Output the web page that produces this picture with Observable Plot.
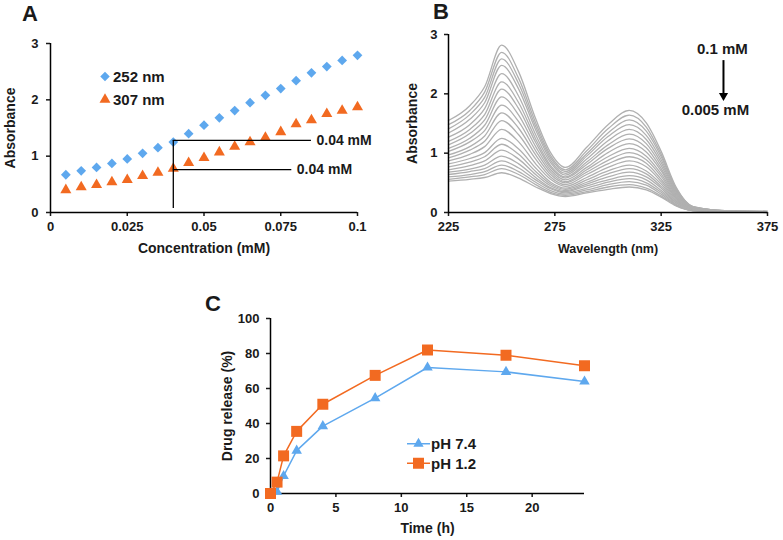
<!DOCTYPE html>
<html><head><meta charset="utf-8">
<script src="https://cdn.jsdelivr.net/npm/d3@7"></script>
<script src="https://cdn.jsdelivr.net/npm/@observablehq/plot@0.6"></script>
<style>
body{margin:0;background:#fff;}
#fig{position:relative;width:783px;height:540px;overflow:hidden;font-family:"Liberation Sans",Arial,sans-serif;color:#1a1a1a;background:#fff;}
.panel{position:absolute;}
.letter{position:absolute;font-weight:bold;font-size:22px;line-height:24px;}
</style></head><body><div id="fig"></div>
<script>
// ---------- Panel A data ----------
const concA = [0.005,0.01,0.015,0.02,0.025,0.03,0.035,0.04,0.045,0.05,0.055,0.06,0.065,0.07,0.075,0.08,0.085,0.09,0.095,0.1];
const abs252 = [0.67,0.74,0.80,0.87,0.95,1.05,1.15,1.25,1.40,1.55,1.68,1.81,1.95,2.08,2.20,2.34,2.48,2.59,2.70,2.79];
const abs307 = [0.40,0.45,0.49,0.54,0.58,0.65,0.71,0.78,0.88,0.97,1.07,1.17,1.25,1.33,1.43,1.57,1.64,1.75,1.81,1.87];
const seriesA = ["252 nm","307 nm"];
const concTicks = [0,0.025,0.05,0.075,0.1];
const concTickLabels = ["0","0.025","0.05","0.075","0.1"];
const absTicks = [0,1,2,3];
const guideAH = [{x1:0.04,x2:0.085,y:1.28,label:"0.04 mM"},{x1:0.04,x2:0.0786,y:0.76,label:"0.04 mM"}];
const guideAV = [{x:0.04,y1:0.07,y2:1.28}];

// ---------- Panel B data ----------
const wavelengths = [225,235,242,250,258,266,273,280,290,300,310,318,325,332,340,355,375];
const concB = [0.005,0.01,0.015,0.02,0.025,0.03,0.035,0.04,0.045,0.05,0.055,0.06,0.065,0.07,0.075,0.08,0.085,0.09,0.095,0.1];
const spectra = [
 [0.53,0.56,0.59,0.67,0.58,0.43,0.32,0.27,0.33,0.39,0.43,0.38,0.26,0.11,0.03,0.01,0.00],
 [0.56,0.60,0.64,0.74,0.64,0.47,0.34,0.29,0.35,0.43,0.47,0.41,0.28,0.12,0.03,0.01,0.00],
 [0.60,0.64,0.69,0.80,0.69,0.51,0.37,0.31,0.38,0.47,0.52,0.46,0.31,0.13,0.03,0.01,0.01],
 [0.64,0.69,0.74,0.87,0.75,0.55,0.40,0.33,0.41,0.51,0.57,0.50,0.34,0.14,0.03,0.01,0.01],
 [0.68,0.73,0.80,0.95,0.82,0.59,0.42,0.35,0.45,0.55,0.62,0.55,0.37,0.16,0.04,0.01,0.01],
 [0.72,0.79,0.87,1.05,0.90,0.64,0.45,0.37,0.48,0.60,0.68,0.60,0.41,0.17,0.04,0.01,0.01],
 [0.77,0.85,0.94,1.15,0.98,0.69,0.48,0.39,0.51,0.65,0.74,0.65,0.44,0.19,0.04,0.01,0.01],
 [0.82,0.91,1.01,1.25,1.07,0.75,0.51,0.41,0.55,0.70,0.80,0.70,0.48,0.20,0.05,0.02,0.01],
 [0.87,0.98,1.11,1.40,1.19,0.82,0.56,0.44,0.59,0.76,0.87,0.77,0.52,0.22,0.05,0.02,0.01],
 [0.92,1.05,1.20,1.55,1.31,0.90,0.60,0.47,0.64,0.82,0.94,0.83,0.56,0.24,0.06,0.02,0.01],
 [0.97,1.11,1.29,1.68,1.42,0.97,0.64,0.50,0.68,0.88,1.01,0.89,0.61,0.25,0.06,0.02,0.01],
 [1.03,1.19,1.38,1.81,1.53,1.04,0.68,0.52,0.72,0.94,1.08,0.95,0.65,0.27,0.06,0.02,0.01],
 [1.08,1.25,1.47,1.95,1.64,1.11,0.72,0.55,0.76,1.01,1.16,1.02,0.70,0.29,0.07,0.02,0.01],
 [1.14,1.33,1.56,2.08,1.75,1.18,0.76,0.58,0.81,1.08,1.24,1.09,0.74,0.31,0.07,0.02,0.01],
 [1.20,1.40,1.65,2.20,1.85,1.24,0.79,0.60,0.85,1.14,1.32,1.16,0.79,0.33,0.08,0.03,0.01],
 [1.27,1.48,1.75,2.34,1.96,1.31,0.84,0.63,0.90,1.21,1.40,1.23,0.84,0.35,0.08,0.03,0.01],
 [1.34,1.57,1.85,2.48,2.08,1.39,0.88,0.66,0.95,1.28,1.48,1.30,0.89,0.37,0.09,0.03,0.01],
 [1.41,1.65,1.94,2.59,2.17,1.45,0.92,0.69,0.99,1.34,1.56,1.37,0.94,0.39,0.09,0.03,0.02],
 [1.48,1.72,2.03,2.70,2.26,1.51,0.96,0.72,1.04,1.41,1.64,1.44,0.98,0.41,0.10,0.03,0.02],
 [1.55,1.80,2.12,2.82,2.37,1.58,1.01,0.76,1.10,1.48,1.72,1.51,1.03,0.43,0.10,0.03,0.02]
];
const wlTicks = [225,275,325,375];
const annB = [{label:"0.1 mM",w:353.8,a:2.76},{label:"0.005 mM",w:350.5,a:1.72}];
const arrowB = [{w:354.3,a1:2.56,a2:1.98,tip:1.97}];

// ---------- Panel C data ----------
const timeC = [0,0.5,1,2,4,8,12,18,24];
const rel74 = [0,1,10,24.5,38.5,54.5,72,69.5,64];
const rel12 = [0,6.5,21.5,35.5,51,67.5,82,79,73];
const seriesC = ["pH 7.4","pH 1.2"];
const timeTicks = [0,5,10,15,20];
const relTicks = [0,20,40,60,80,100];

const BLUE = "#5ea8ee", ORANGE = "#f26a21", INK = "#1a1a1a";
const FONT = "'Liberation Sans', Arial, sans-serif";
const baseStyle = {fontFamily: FONT, fontSize: "13px", fontWeight: "bold", color: INK, background: "transparent", overflow: "visible"};
const intFmt = d => String(d);

const fig = document.getElementById("fig");
function place(node, left, top) {
  const d = document.createElement("div");
  d.className = "panel"; d.style.left = left + "px"; d.style.top = top + "px";
  d.appendChild(node); fig.appendChild(d);
}
function letter(t, left, top) {
  const d = document.createElement("div");
  d.className = "letter"; d.textContent = t; d.style.left = left + "px"; d.style.top = top + "px";
  fig.appendChild(d);
}
function legend(left, top, rowH, textX, lineLen, fontSize, items) {
  const svg = d3.create("svg").attr("width", 90).attr("height", rowH * items.length + 4)
    .style("position", "absolute").style("left", left + "px").style("top", top + "px").style("overflow", "visible");
  items.forEach((it, i) => {
    const cy = rowH / 2 + i * rowH;
    if (lineLen) svg.append("line").attr("x1", 0).attr("x2", lineLen).attr("y1", cy).attr("y2", cy)
      .attr("stroke", it.color).attr("stroke-width", 1.5);
    svg.append("path").attr("d", d3.symbol(it.type, it.size)()).attr("transform", `translate(${it.cx},${cy})`).attr("fill", it.color);
    svg.append("text").attr("x", textX).attr("y", cy).attr("dy", "0.36em").attr("font-family", FONT)
      .attr("font-size", fontSize).attr("font-weight", "bold").attr("fill", INK).text(it.label);
  });
  fig.appendChild(svg.node());
}

// ---------- Panel A ----------
const rowsA = concA.map((c, i) => ({c, a252: abs252[i], a307: abs307[i]}));
const plotA = Plot.plot({
  width: 390, height: 260, marginLeft: 50, marginRight: 33, marginTop: 43, marginBottom: 48,
  style: baseStyle,
  x: {domain: [0, 0.1]},
  y: {domain: [0, 3]},
  marks: [
    Plot.axisX({ticks: concTicks, tickFormat: d => concTickLabels[concTicks.indexOf(d)], tickSize: 4, tickPadding: 5, strokeWidth: 1.5, label: null}),
    Plot.axisY({ticks: absTicks, tickFormat: intFmt, tickSize: 4, tickPadding: 8, strokeWidth: 1.5, label: null}),
    Plot.ruleX([0], {stroke: "#000", strokeWidth: 1.5}),
    Plot.ruleY([0], {stroke: "#000", strokeWidth: 1.5}),
    Plot.dot(rowsA, {x: "c", y: "a252", symbol: "diamond2", fill: BLUE, stroke: "none", r: 4.4}),
    Plot.dot(rowsA, {x: "c", y: "a307", symbol: "triangle", fill: ORANGE, stroke: "none", r: 4.1}),
    Plot.ruleX(guideAV, {x: "x", y1: "y1", y2: "y2", stroke: "#000", strokeWidth: 1.3}),
    Plot.ruleY(guideAH, {y: "y", x1: "x1", x2: "x2", stroke: "#000", strokeWidth: 1.3}),
    Plot.text(guideAH, {x: "x2", y: "y", text: "label", textAnchor: "start", dx: 5, fontSize: 14}),
    Plot.text(["Absorbance"], {text: d => d, frameAnchor: "left", textAnchor: "middle", lineAnchor: "middle", dx: -40, rotate: -90, fontSize: 14}),
    Plot.text(["Concentration (mM)"], {text: d => d, frameAnchor: "bottom", textAnchor: "middle", lineAnchor: "middle", dy: 36, fontSize: 14})
  ]
});
place(plotA, 0, 0);

// ---------- Panel B ----------
const rowsB = [];
spectra.forEach((s, k) => s.forEach((a, j) => rowsB.push({c: concB[k], w: wavelengths[j], a})));
const plotB = Plot.plot({
  width: 393, height: 260, marginLeft: 58, marginRight: 16, marginTop: 34, marginBottom: 48,
  style: baseStyle,
  x: {domain: [225, 375]},
  y: {domain: [0, 3]},
  marks: [
    Plot.line(rowsB, {x: "w", y: "a", z: "c", stroke: "#b0b0b0", strokeWidth: 1.3, curve: "monotone-x"}),
    Plot.axisX({ticks: wlTicks, tickFormat: intFmt, tickSize: 4, tickPadding: 5, strokeWidth: 1.5, label: null}),
    Plot.axisY({ticks: absTicks, tickFormat: intFmt, tickSize: 4, tickPadding: 7, strokeWidth: 1.5, label: null}),
    Plot.ruleX([225], {stroke: "#000", strokeWidth: 1.5}),
    Plot.ruleY([0], {stroke: "#000", strokeWidth: 1.5}),
    Plot.text(annB, {x: "w", y: "a", text: "label", fontSize: 15}),
    Plot.ruleX(arrowB, {x: "w", y1: "a1", y2: "a2", stroke: "#000", strokeWidth: 2}),
    Plot.dot(arrowB, {x: "w", y: "tip", symbol: "triangle", rotate: 180, fill: "#000", stroke: "none", r: 3.4}),
    Plot.text(["Absorbance"], {text: d => d, frameAnchor: "left", textAnchor: "middle", lineAnchor: "middle", dx: -36, rotate: -90, fontSize: 14}),
    Plot.text(["Wavelength (nm)"], {text: d => d, frameAnchor: "bottom", textAnchor: "middle", lineAnchor: "middle", dy: 36, fontSize: 12.5})
  ]
});
place(plotB, 390, 0);

// ---------- Panel C ----------
const rowsC = timeC.map((t, i) => ({t, p74: rel74[i], p12: rel12[i]}));
const plotC = Plot.plot({
  width: 410, height: 270, marginLeft: 80, marginRight: 16, marginTop: 48, marginBottom: 47,
  style: baseStyle,
  x: {domain: [0, 24]},
  y: {domain: [0, 100]},
  marks: [
    Plot.axisX({ticks: timeTicks, tickFormat: intFmt, tickSize: 4, tickPadding: 5, strokeWidth: 1.5, label: null}),
    Plot.axisY({ticks: relTicks, tickFormat: intFmt, tickSize: 4, tickPadding: 7, strokeWidth: 1.5, label: null}),
    Plot.ruleX([0], {stroke: "#000", strokeWidth: 1.5}),
    Plot.ruleY([0], {stroke: "#000", strokeWidth: 1.5}),
    Plot.line(rowsC, {x: "t", y: "p74", stroke: BLUE, strokeWidth: 1.5}),
    Plot.dot(rowsC, {x: "t", y: "p74", symbol: "triangle", fill: BLUE, stroke: "none", r: 3.9}),
    Plot.line(rowsC, {x: "t", y: "p12", stroke: ORANGE, strokeWidth: 1.5}),
    Plot.dot(rowsC, {x: "t", y: "p12", symbol: "square", fill: ORANGE, stroke: "none", r: 6.2}),
    Plot.text(["Drug release (%)"], {text: d => d, frameAnchor: "left", textAnchor: "middle", lineAnchor: "middle", dx: -43, rotate: -90, fontSize: 14}),
    Plot.text(["Time (h)"], {text: d => d, frameAnchor: "bottom", textAnchor: "middle", lineAnchor: "middle", dy: 35, fontSize: 14})
  ]
});
place(plotC, 190, 270);

// ---------- Legends and panel letters ----------
legend(98, 64.5, 23, 15, 0, 15, [
  {label: seriesA[0], type: d3.symbolDiamond2, size: 58, color: BLUE, cx: 7},
  {label: seriesA[1], type: d3.symbolTriangle, size: 52, color: ORANGE, cx: 7}
]);
legend(407, 433.5, 19.5, 24, 23, 15, [
  {label: seriesC[0], type: d3.symbolTriangle, size: 46, color: BLUE, cx: 11.5},
  {label: seriesC[1], type: d3.symbolSquare, size: 121, color: ORANGE, cx: 11.5}
]);
letter("A", 22, 2);
letter("B", 433, 0);
letter("C", 205, 292);
</script></body></html>
